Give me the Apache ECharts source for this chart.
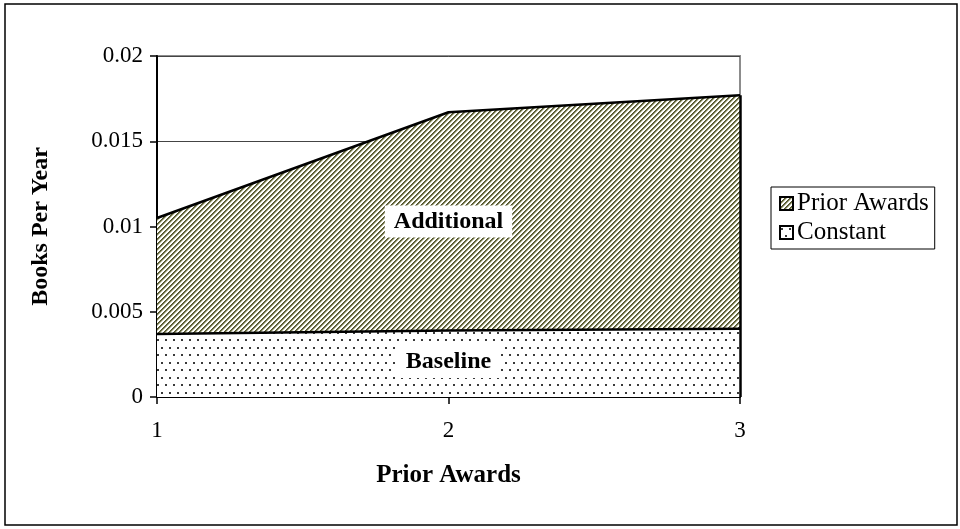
<!DOCTYPE html>
<html>
<head>
<meta charset="utf-8">
<script src="https://cdn.jsdelivr.net/npm/echarts@6/dist/echarts.min.js"></script>
<style>
html,body{margin:0;padding:0;background:#fff;}
#chart{width:960px;height:529px;}
</style>
</head>
<body>
<div id="chart"></div>
<script>
// ---- data ----
var categories = ['1', '2', '3'];
var constantValues = [0.0037, 0.0039, 0.0040];
var priorAwardsValues = [0.0068, 0.0128, 0.0137];
var yTicks = [0, 0.005, 0.01, 0.015, 0.02];
var annotationNames = ['Additional', 'Baseline'];
var annotationY = [0.0103, 0.00205];

var totals = constantValues.map(function (v, i) { return v + priorAwardsValues[i]; });

// ---- patterns ----
function makeHatch() {
  var n = 5, c = document.createElement('canvas');
  c.width = n; c.height = n;
  var ctx = c.getContext('2d');
  var img = ctx.createImageData(n, n);
  var cols = [[80, 82, 44], [112, 114, 72], [196, 198, 168], [255, 255, 255], [255, 255, 255]];
  for (var y = 0; y < n; y++) for (var x = 0; x < n; x++) {
    var col = cols[(x + y) % n];
    var i = (y * n + x) * 4;
    img.data[i] = col[0]; img.data[i + 1] = col[1]; img.data[i + 2] = col[2]; img.data[i + 3] = 255;
  }
  ctx.putImageData(img, 0, 0);
  return c;
}
function makeDots() {
  var w = 8, h = 15, c = document.createElement('canvas');
  c.width = w; c.height = h;
  var ctx = c.getContext('2d');
  ctx.fillStyle = '#fff'; ctx.fillRect(0, 0, w, h);
  ctx.fillStyle = '#3a3a3a';
  ctx.fillRect(1, 2, 2, 2);
  ctx.fillRect(5, 9, 2, 2);
  return c;
}
var hatch = { image: makeHatch(), repeat: 'repeat' };
var dots = { image: makeDots(), repeat: 'repeat' };

var FONT = '"Liberation Serif", "Times New Roman", serif';

var chart = echarts.init(document.getElementById('chart'));
chart.setOption({
  animation: false,
  backgroundColor: '#fff',
  graphic: [{
    type: 'rect', shape: { x: 5, y: 4, width: 952, height: 521 },
    style: { fill: 'none', stroke: '#000', lineWidth: 1.5 }, silent: true, z: -1
  }],
  grid: {
    left: 157, right: 220, top: 56, bottom: 132,
    show: true, borderColor: '#8c8c8c', borderWidth: 2, backgroundColor: 'transparent'
  },
  legend: {
    orient: 'vertical', left: 771, top: 187,
    borderColor: '#000', borderWidth: 1, padding: [4, 6, 4, 8],
    itemWidth: 13, itemHeight: 13, itemGap: 4,
    textStyle: { fontFamily: FONT, fontSize: 25, color: '#000', padding: [0, 0, 0, -1] },
    data: [
      { name: 'Prior Awards', icon: 'rect', itemStyle: { color: hatch, borderColor: '#000', borderWidth: 2 } },
      { name: 'Constant', icon: 'rect', itemStyle: { color: dots, borderColor: '#000', borderWidth: 2 } }
    ]
  },
  xAxis: {
    type: 'category', data: categories, boundaryGap: false,
    name: 'Prior Awards', nameLocation: 'middle', nameGap: 66,
    nameTextStyle: { fontFamily: FONT, fontSize: 25, fontWeight: 'bold', color: '#000' },
    axisLine: { lineStyle: { color: '#000', width: 2 } },
    axisTick: { show: true, alignWithLabel: true, length: 7, inside: false, lineStyle: { color: '#000', width: 1.5 } },
    axisLabel: { fontFamily: FONT, fontSize: 23, color: '#000', margin: 22 },
    splitLine: { show: false }
  },
  yAxis: {
    type: 'value', min: yTicks[0], max: yTicks[yTicks.length - 1], interval: yTicks[1] - yTicks[0],
    name: 'Books Per Year', nameLocation: 'middle', nameGap: 104, nameRotate: 90,
    nameTextStyle: { fontFamily: FONT, fontSize: 24, fontWeight: 'bold', color: '#000' },
    axisLine: { show: true, lineStyle: { color: '#000', width: 2 } },
    axisTick: { show: true, length: 7, lineStyle: { color: '#000', width: 1.5 } },
    axisLabel: { fontFamily: FONT, fontSize: 23, color: '#000', margin: 14,
      formatter: function (v) { return String(Math.round(v * 1000) / 1000); } },
    splitLine: { show: true, lineStyle: { color: '#444', width: 1 } }
  },
  series: [
    {
      name: 'Constant', type: 'line', stack: 'total', data: constantValues,
      symbol: 'none', lineStyle: { color: '#000', width: 2.5 },
      itemStyle: { color: dots },
      areaStyle: { color: dots, opacity: 1 },
      z: 2,
      markLine: {
        silent: true, symbol: 'none', label: { show: false },
        lineStyle: { color: '#000', width: 2.5, type: 'solid' },
        data: [[
          { coord: [categories.length - 1, 0] },
          { coord: [categories.length - 1, totals[totals.length - 1]] }
        ]]
      },
      markPoint: {
        silent: true, symbol: 'rect', symbolSize: 1, itemStyle: { color: 'transparent' },
        label: {
          show: true, position: 'inside', fontFamily: FONT, fontSize: 24, fontWeight: 'bold', color: '#000',
          backgroundColor: '#fff', padding: [5, 9, 3, 9],
          formatter: function (p) { return p.name; }
        },
        data: annotationNames.map(function (n, i) {
          return { name: n, coord: [1, annotationY[i]] };
        })
      }
    },
    {
      name: 'Prior Awards', type: 'line', stack: 'total', data: priorAwardsValues,
      symbol: 'none', lineStyle: { color: '#000', width: 2.5 },
      itemStyle: { color: hatch },
      areaStyle: { color: hatch, opacity: 1 },
      z: 1
    }
  ]
});
</script>
</body>
</html>
